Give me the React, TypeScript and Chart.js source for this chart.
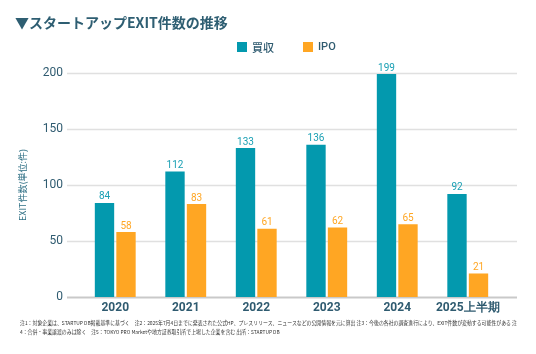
import React, { useEffect, useRef } from 'react';
import { Chart, registerables } from 'chart.js';

Chart.register(...registerables);

const categories = ['2020', '2021', '2022', '2023', '2024', '2025上半期'];
const acquisitions = [84, 112, 133, 136, 199, 92];
const ipos = [58, 83, 61, 62, 65, 21];
const seriesNames = ['買収', 'IPO'];
const yMin = 0;
const yMax = 200;
const yStep = 50;
const chartTitle = '▼スタートアップEXIT件数の推移';
const yAxisTitle = 'EXIT件数(単位:件)';
const footnoteLines = [
  '注1：対象企業は、STARTUP DB掲載基準に基づく　注2：2025年7月4日までに発表された公式HP、プレスリリース、ニュースなどの公開情報を元に算出 注3：今後の各社の調査進行により、EXIT件数が変動する可能性がある 注',
  '4：合併・事業譲渡のみは除く　注5：TOKYO PRO Marketや地方証券取引所で上場した企業を含む 出所：STARTUP DB',
];

const TEAL = '#0399AE';
const ORANGE = '#FFA623';
const TEXT = '#2F5B70';

const gridPlugin = {
  id: 'extendedGrid',
  beforeDatasetsDraw(chart: any) {
    const { ctx, chartArea, scales } = chart;
    const y = scales.y;
    ctx.save();
    y.ticks.forEach((t: any) => {
      const py = Math.round(y.getPixelForValue(t.value)) + 0.5;
      ctx.beginPath();
      ctx.strokeStyle = t.value === 0 ? '#C9C9C9' : '#E0E0E0';
      ctx.lineWidth = t.value === 0 ? 2 : 1.5;
      ctx.moveTo(chartArea.left - 13, py);
      ctx.lineTo(chartArea.right + 14, py);
      ctx.stroke();
    });
    ctx.restore();
  },
};

const valueLabelPlugin = {
  id: 'valueLabels',
  afterDatasetsDraw(chart: any) {
    const { ctx } = chart;
    ctx.save();
    ctx.font = '10px Roboto';
    ctx.textAlign = 'center';
    ctx.textBaseline = 'bottom';
    chart.data.datasets.forEach((ds: any, i: number) => {
      const meta = chart.getDatasetMeta(i);
      ctx.fillStyle = i === 0 ? '#1AA0B4' : ORANGE;
      meta.data.forEach((bar: any, j: number) => {
        ctx.fillText(String(ds.data[j]), bar.x, bar.y - 1);
      });
    });
    ctx.restore();
  },
};

export default function App() {
  const ref = useRef<HTMLCanvasElement | null>(null);
  const noteRef = useRef<HTMLDivElement | null>(null);
  useEffect(() => {
    const note = noteRef.current;
    if (note) {
      const w = note.scrollWidth;
      if (w > 0) note.style.transform = `scaleX(${497 / w})`;
    }
    if (!ref.current) return;
    const chart = new Chart(ref.current, {
      type: 'bar',
      data: {
        labels: categories,
        datasets: [
          {
            label: seriesNames[0],
            data: acquisitions,
            backgroundColor: TEAL,
            categoryPercentage: 0.61,
            barPercentage: 0.9,
          },
          {
            label: seriesNames[1],
            data: ipos,
            backgroundColor: ORANGE,
            categoryPercentage: 0.61,
            barPercentage: 0.9,
          },
        ],
      },
      options: {
        responsive: false,
        animation: false,
        layout: { padding: { left: 0, right: 33, top: 73, bottom: 37 } },
        plugins: {
          legend: { display: false },
          tooltip: { enabled: false },
          title: { display: false },
        },
        scales: {
          x: {
            grid: { display: false, drawTicks: false },
            border: { display: false },
            ticks: {
              color: TEXT,
              padding: 4,
              font: { family: 'Roboto', size: 12, weight: 'bold' },
            },
            afterFit: (s: any) => {
              s.height = 20;
            },
          },
          y: {
            min: yMin,
            max: yMax,
            grid: { display: false, drawTicks: false },
            border: { display: false },
            ticks: {
              stepSize: yStep,
              color: TEXT,
              padding: 17,
              font: { family: 'Roboto', size: 12 },
            },
            title: {
              display: true,
              text: yAxisTitle,
              color: '#2E6F84',
              padding: { top: 17, bottom: 0 },
              font: { family: 'Noto Sans CJK JP', size: 9 },
            },
            afterFit: (s: any) => {
              s.width = 80;
            },
          },
        },
      },
      plugins: [gridPlugin, valueLabelPlugin],
    });
    return () => chart.destroy();
  }, []);

  return (
    <div
      style={{
        position: 'fixed',
        left: 0,
        top: 0,
        width: 536,
        height: 354,
        background: '#fff',
        overflow: 'hidden',
      }}
    >
      <canvas
        ref={ref}
        width={536}
        height={354}
        style={{ position: 'absolute', left: 0, top: 0, width: 536, height: 354 }}
      />
      <div
        style={{
          position: 'absolute',
          left: 15,
          top: 12,
          fontFamily: '"Noto Sans CJK JP", sans-serif',
          fontWeight: 700,
          fontSize: 14,
          lineHeight: '20px',
          color: '#2E5E72',
          whiteSpace: 'nowrap',
        }}
      >
        {chartTitle}
      </div>
      <div
        style={{
          position: 'absolute',
          left: 237,
          top: 40,
          display: 'flex',
          alignItems: 'center',
          fontFamily: '"Noto Sans CJK JP", sans-serif',
          fontWeight: 500,
          fontSize: 11,
          lineHeight: '14px',
          color: TEXT,
          whiteSpace: 'nowrap',
        }}
      >
        <span style={{ display: 'inline-block', width: 10, height: 10, background: TEAL, marginRight: 5 }} />
        <span style={{ width: 51 }}>{seriesNames[0]}</span>
        <span style={{ display: 'inline-block', width: 10, height: 10, background: ORANGE, marginRight: 5 }} />
        <span style={{ fontFamily: 'Roboto', fontWeight: 500 }}>{seriesNames[1]}</span>
      </div>
      <div
        ref={noteRef}
        style={{
          position: 'absolute',
          left: 20,
          top: 318,
          fontFamily: '"Noto Sans CJK JP", sans-serif',
          fontSize: 5.2,
          lineHeight: '9px',
          color: '#333',
          whiteSpace: 'nowrap',
          transformOrigin: '0 0',
        }}
      >
        {footnoteLines.map((l, i) => (
          <div key={i}>{l}</div>
        ))}
      </div>
    </div>
  );
}
